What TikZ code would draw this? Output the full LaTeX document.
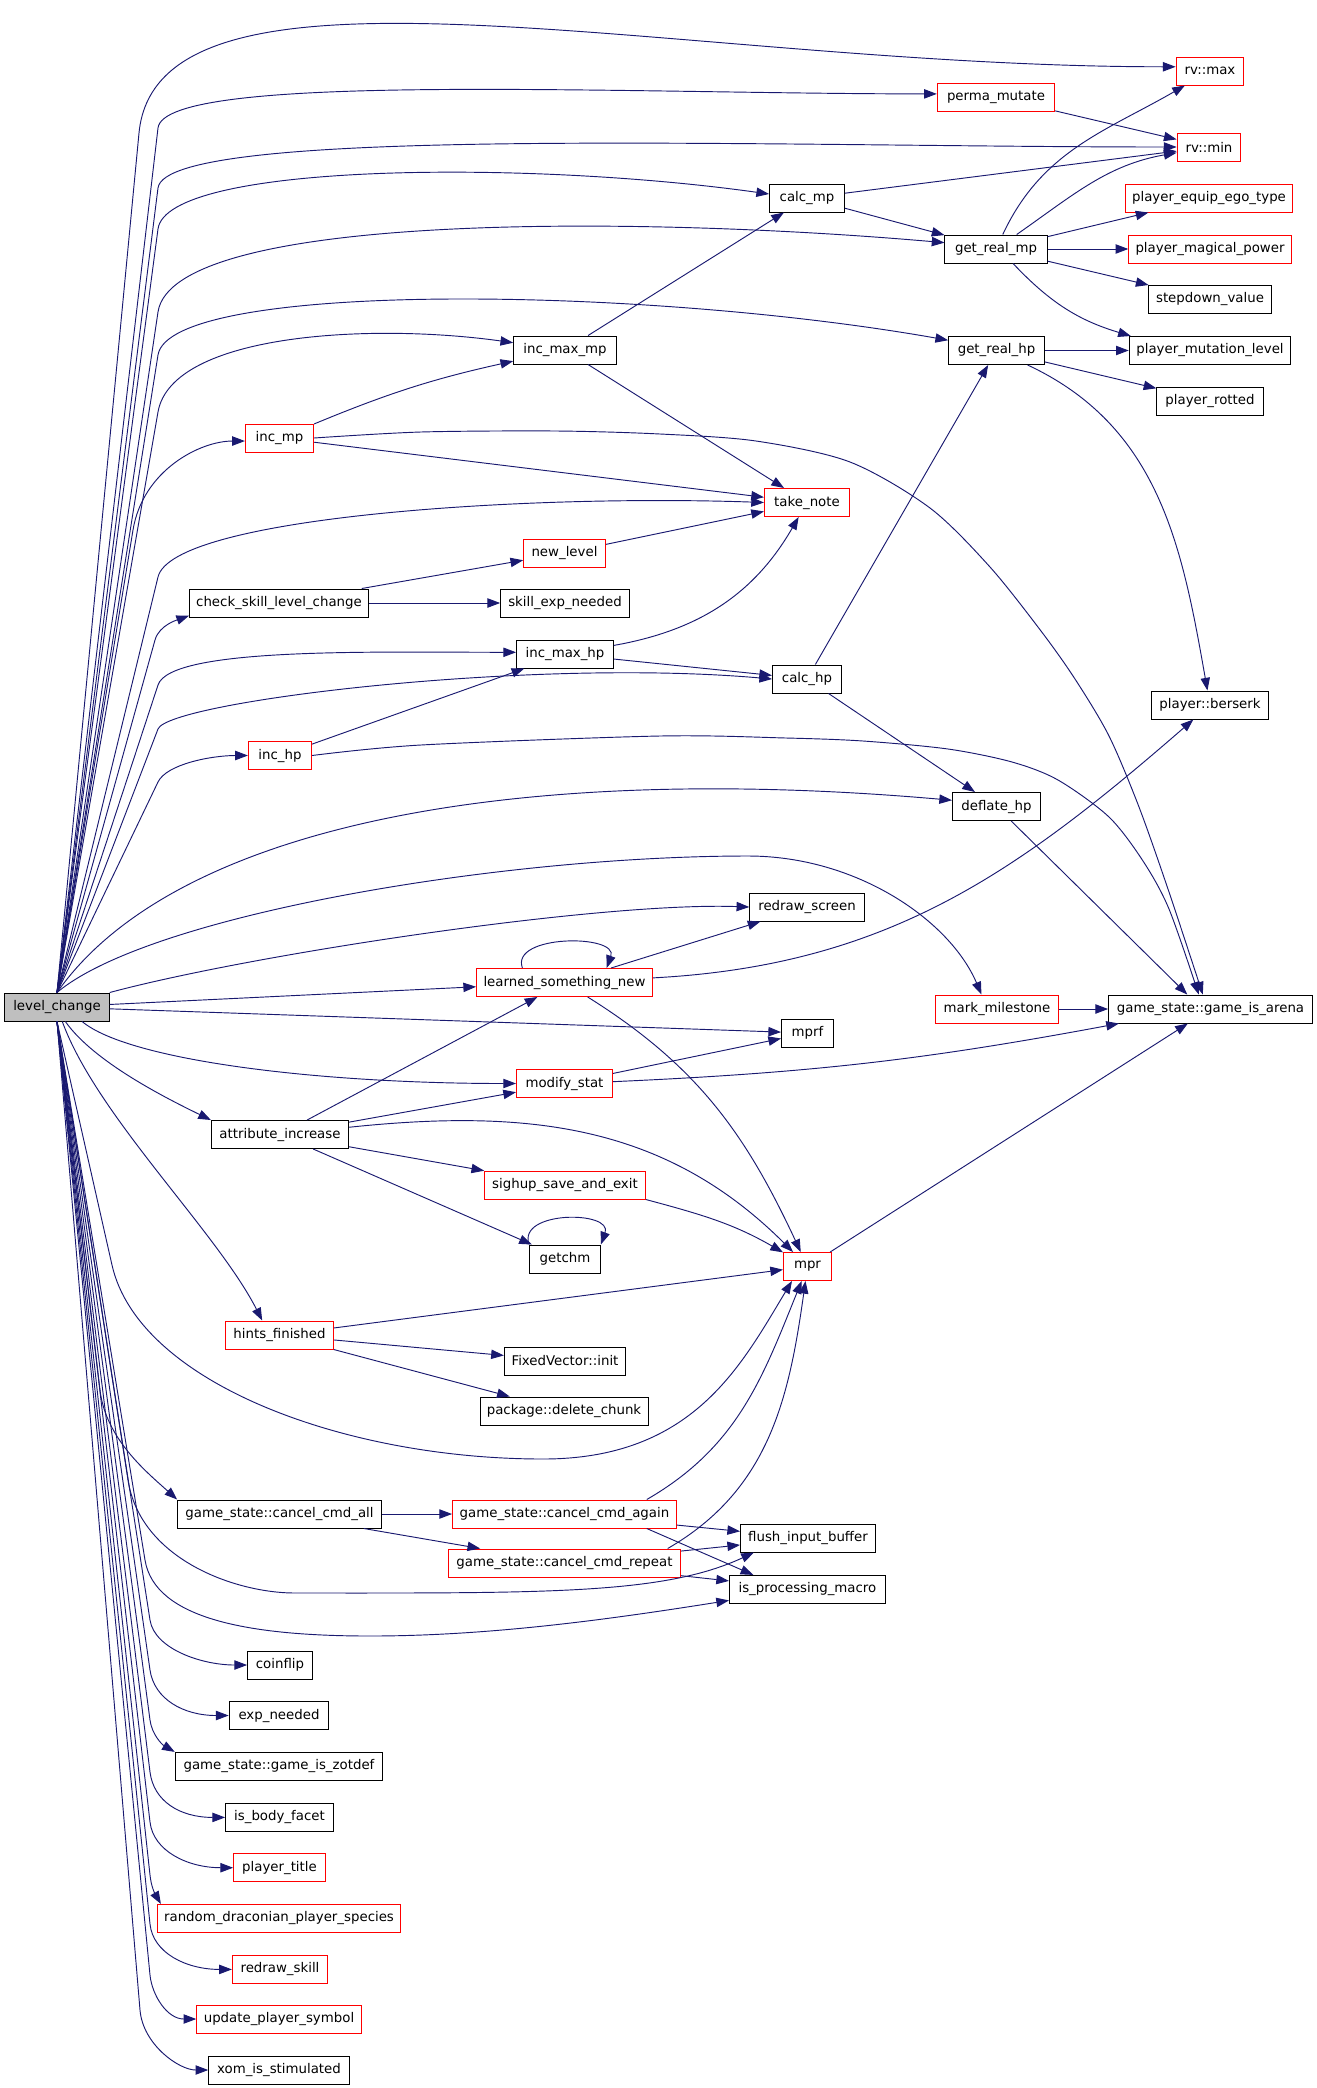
\documentclass[tikz,border=0pt]{standalone}
\usepackage{fontspec}
\setmainfont{DejaVu Sans}
\usetikzlibrary{arrows.meta}
\definecolor{edgeblue}{RGB}{25,25,112}

\begin{document}
\begin{tikzpicture}[x=0.75pt, y=-0.75pt,
		fn/.style={draw=black, line width=0.75pt, minimum height=21pt, inner sep=0pt, text=black},
		fnr/.style={fn, draw=red},
		root/.style={fn, fill=gray!50},
		wd/.style={minimum width=#1*0.75pt},
		call/.style={draw=edgeblue, line width=0.7pt, -{Triangle[length=9.5pt, width=7pt]}},
		fan/.style={smooth, tension=0.5}]
		\useasboundingbox[fill=white] (0,0) rectangle (1317,2088);

		\node[root, wd=104.4] (lc) at (57,1007) {level\_change};

		\node[fnr, wd=68.2] (incmp) at (279.5,438) {inc\_mp};
		\node[fn, wd=178.9] (cslc) at (279,603) {check\_skill\_level\_change};
		\node[fnr, wd=63.2] (inchp) at (280,755.5) {inc\_hp};
		\node[fn, wd=137.2] (ai) at (280,1134.5) {attribute\_increase};
		\node[fnr, wd=107.8] (hf) at (279.5,1335) {hints\_finished};
		\node[fn, wd=203.7] (cca) at (279.5,1514) {game\_state::cancel\_cmd\_all};
		\node[fn, wd=64.8] (coin) at (280,1665) {coinflip};
		\node[fn, wd=99.7] (expn) at (279,1715.5) {exp\_needed};
		\node[fn, wd=207.5] (zot) at (279,1766.4) {game\_state::game\_is\_zotdef};
		\node[fn, wd=107.8] (ibf) at (279.5,1817.4) {is\_body\_facet};
		\node[fnr, wd=91.8] (ptitle) at (279.5,1867.7) {player\_title};
		\node[fnr, wd=242.9] (rdps) at (279,1918.4) {random\_draconian\_player\_species};
		\node[fnr, wd=95.2] (rsk) at (280,1969.4) {redraw\_skill};
		\node[fnr, wd=164.5] (ups) at (279,2019) {update\_player\_symbol};
		\node[fn, wd=140.5] (xom) at (279,2070) {xom\_is\_stimulated};

		\node[fn, wd=102.7] (imm) at (565,350) {inc\_max\_mp};
		\node[fnr, wd=81.7] (nl) at (564.5,553) {new\_level};
		\node[fn, wd=128.7] (sen) at (565,603) {skill\_exp\_needed};
		\node[fn, wd=96.9] (imh) at (565,654) {inc\_max\_hp};
		\node[fnr, wd=175.9] (lsn) at (564.5,982.5) {learned\_something\_new};
		\node[fnr, wd=96] (ms) at (564.5,1083.5) {modify\_stat};
		\node[fnr, wd=160.7] (sighup) at (565,1185) {sighup\_save\_and\_exit};
		\node[fn, wd=70.7] (getchm) at (565,1259) {getchm};
		\node[fn, wd=121.3] (fvi) at (565,1361) {FixedVector::init};
		\node[fn, wd=168] (pdc) at (564,1411) {package::delete\_chunk};
		\node[fnr, wd=223.9] (ccag) at (564.5,1514) {game\_state::cancel\_cmd\_again};
		\node[fnr, wd=232.3] (ccr) at (564.5,1563) {game\_state::cancel\_cmd\_repeat};

		\node[fn, wd=74.9] (calcmp) at (807,198) {calc\_mp};
		\node[fnr, wd=85.1] (tnote) at (807,502.5) {take\_note};
		\node[fn, wd=68.9] (calchp) at (807,679) {calc\_hp};
		\node[fn, wd=114.5] (rscr) at (807,907) {redraw\_screen};
		\node[fn, wd=51.9] (mprf) at (807.5,1033) {mprf};
		\node[fnr, wd=48] (mpr) at (807.5,1266.5) {mpr};
		\node[fn, wd=134.9] (fib) at (808,1538) {flush\_input\_buffer};
		\node[fn, wd=155.8] (ipm) at (807.4,1589.4) {is\_processing\_macro};

		\node[fnr, wd=117.4] (perma) at (996,97) {perma\_mutate};
		\node[fn, wd=102.1] (grmp) at (996,249) {get\_real\_mp};
		\node[fn, wd=95.8] (grhp) at (996.5,350.5) {get\_real\_hp};
		\node[fn, wd=88] (defl) at (996.5,806.5) {deflate\_hp};
		\node[fnr, wd=123.7] (mmile) at (997,1009) {mark\_milestone};

		\node[fnr, wd=67.7] (rvmax) at (1210,71) {rv::max};
		\node[fnr, wd=63.8] (rvmin) at (1209,147) {rv::min};
		\node[fnr, wd=167.6] (peet) at (1209,198) {player\_equip\_ego\_type};
		\node[fnr, wd=162.4] (pmp) at (1210,249) {player\_magical\_power};
		\node[fn, wd=123.8] (sdv) at (1210,299.5) {stepdown\_value};
		\node[fn, wd=161.6] (pml) at (1210,350.5) {player\_mutation\_level};
		\node[fn, wd=106.3] (prot) at (1210,401) {player\_rotted};
		\node[fn, wd=116.1] (bers) at (1210,705) {player::berserk};
		\node[fn, wd=203.8] (gia) at (1210.5,1009) {game\_state::game\_is\_arena};

		% calls made by level_change
		\draw[call] (lc.north) -- (139,133) to[out=84.5, in=180, out distance=150pt, in distance=375pt] (rvmax.173);
		\draw[call] (lc.north) -- (158,128) to[out=83.3, in=180, out distance=43pt, in distance=234pt] (perma.177);
		\draw[call] (lc.north) -- (158,188) to[out=82.8, in=180, out distance=48pt, in distance=306pt] (rvmin.west);
		\draw[call] (lc.north) -- (158,229) to[out=82.5, in=172, out distance=50pt, in distance=184pt] (calcmp.174);
		\draw[call] (lc.north) -- (158,312) to[out=81.6, in=175, out distance=75pt, in distance=236pt] (grmp.173);
		\draw[call] (lc.north) -- (158,355) to[out=81, in=170, out distance=56pt, in distance=237pt] (grhp.168);
		\draw[call] (lc.north) -- (158,412) to[out=80.1, in=172, out distance=60pt, in distance=107pt] (imm.172);
		\draw[call] (lc.north) -- (133,530) to[out=80.7, in=180, out distance=45pt, in distance=34pt] (incmp.185);
		\draw[call] (lc.north) -- (158,577) to[out=76.4, in=178, out distance=46pt, in distance=182pt] (tnote.west);
		\draw[call] (lc.north) -- (155,640) to[out=74.5, in=200, out distance=12pt, in distance=8pt] (cslc.188);
		\draw[call] (lc.north) -- (158,685) to[out=71.8, in=180, out distance=30pt, in distance=107pt] (imh.178);
		\draw[call] (lc.north) -- (158,729) to[out=69, in=175, out distance=22pt, in distance=184pt] (calchp.west);
		\draw[call] (lc.north) -- (158,782) to[out=64.4, in=180, out distance=15pt, in distance=27pt] (inchp.west);
		\draw[call] (lc.north) to[out=55, in=175, out distance=150pt, in distance=337pt] (defl.172);
		\draw[call] (lc.north) to[out=40, in=180, out distance=90pt, in distance=187pt] (748,856) to[out=0, in=113, out distance=82pt, in distance=60pt] (mmile.137);
		\draw[call] (lc.north east) to[out=15, in=178, out distance=112pt, in distance=112pt] (rscr.west);
		\draw[call] (lc) -- (lsn);
		\draw[call] (lc) -- (mprf);
		\draw[call] (lc.-30) to[out=-40, in=180, out distance=45pt, in distance=150pt] (ms.west);
		\draw[call] (lc.-60) to[out=-55, in=154, out distance=37pt, in distance=37pt] (ai.north west);
		\draw[call] (lc.-70) to[out=-70, in=117, out distance=75pt, in distance=75pt] (hf.140);
		\draw[call] (lc.south) -- (112,1265) to[out=-77.3, in=180, out distance=90pt, in distance=150pt] (543,1459) to[out=0, in=-121, out distance=112pt, in distance=75pt] (mpr.-137);
		\draw[call] (lc.south) -- (100,1390) to[out=-83.4, in=138, out distance=37pt, in distance=30pt] (cca.north west);
		\draw[call] (lc.south) -- (128,1480) to[out=-81.2, in=180, out distance=60pt, in distance=45pt] (295,1593) to[out=0, in=205, out distance=187pt, in distance=75pt] (fib.-165);
		\draw[call] (lc.south) -- (145,1560) to[out=-80.7, in=180, out distance=45pt, in distance=90pt] (370,1636) to[out=0, in=189, out distance=90pt, in distance=90pt] (ipm.-172);
		\draw[call] (lc.south) -- (150,1620) to[out=-81.2, in=180, out distance=22pt, in distance=34pt] (coin.west);
		\draw[call] (lc.south) -- (150,1670) to[out=-81.8, in=180, out distance=22pt, in distance=34pt] (expn.west);
		\draw[call] (lc.south) -- (150,1720) to[out=-82.4, in=150, out distance=11pt, in distance=11pt] (zot.north west);
		\draw[call] (lc.south) -- (150,1772) to[out=-82.9, in=180, out distance=22pt, in distance=34pt] (ibf.west);
		\draw[call] (lc.south) -- (150,1822) to[out=-83.4, in=180, out distance=22pt, in distance=34pt] (ptitle.west);
		\draw[call] (lc.south) -- (150,1875) to[out=-83.8, in=120, out distance=9pt, in distance=9pt] (rdps.173);
		\draw[call] (lc.south) -- (150,1924) to[out=-84.1, in=180, out distance=22pt, in distance=34pt] (rsk.west);
		\draw[call] (lc.south) -- (150,1975) to[out=-84.4, in=180, out distance=15pt, in distance=22pt] (ups.west);
		\draw[call] (lc.south) -- (140,2010) to[out=-85.2, in=180, out distance=26pt, in distance=22pt] (xom.west);

		% the rest of the call graph
		\draw[call] (perma) -- (rvmin);
		\draw[call] (calcmp) -- (rvmin);
		\draw[call] (calcmp) -- (grmp);
		\draw[call] (grmp) to[out=65, in=-150] (rvmax);
		\draw[call] (grmp) to[out=35, in=-170] (rvmin);
		\draw[call] (grmp) -- (peet);
		\draw[call] (grmp) -- (pmp);
		\draw[call] (grmp) -- (sdv);
		\draw[call] (grmp) to[bend right=15] (pml);
		\draw[call] (grhp) -- (pml);
		\draw[call] (grhp) -- (prot);
		\draw[call] (grhp) to[out=-25, in=100] (bers);
		\draw[call] (imm) -- (calcmp);
		\draw[call] (imm) -- (tnote);
		\draw[call] (incmp) to[bend left=5] (imm);
		\draw[call] (incmp) -- (tnote);
		\draw[call] plot[fan] coordinates {(incmp.east) (421,432) (556,431) (660,434) (756,441) (850,462) (930,508) (990,567) (1041,631) (1075,679) (1109,736) (1139,807) (1169,892) (gia.118)};
		\draw[call] (nl) -- (tnote);
		\draw[call] (cslc) -- (nl);
		\draw[call] (cslc) -- (sen);
		\draw[call] (imh) to[out=10, in=-120] (tnote);
		\draw[call] (imh) -- (calchp);
		\draw[call] (calchp) -- (grhp);
		\draw[call] (calchp) -- (defl);
		\draw[call] (inchp) -- (imh);
		\draw[call] plot[fan] coordinates {(inchp.east) (421,745) (660,736) (786,738) (863,741) (948,749) (1012,762) (1058,780) (1109,817) (1143,861) (1169,909) (gia.129)};
		\draw[call] (defl) -- (gia.148);
		\draw[call] (mmile) -- (gia);
		\draw[call] (lsn.161) to[out=110, in=70, looseness=1.1] (lsn.19);
		\draw[call] (lsn) -- (rscr);
		\draw[call] (lsn) to[out=3, in=-139] (bers);
		\draw[call] (lsn) to[out=-32, in=115] (mpr);
		\draw[call] (ms) -- (mprf);
		\draw[call] (ms) to[bend right=4] (gia.-171);
		\draw[call] (ai) -- (lsn);
		\draw[call] (ai) -- (ms);
		\draw[call] (ai) to[out=6, in=135] (mpr);
		\draw[call] (ai) -- (sighup);
		\draw[call] (ai) -- (getchm);
		\draw[call] (getchm.north west) to[out=110, in=70, looseness=1.3] (getchm.north east);
		\draw[call] (sighup.south east) to[out=-15, in=150] (mpr);
		\draw[call] (hf) -- (mpr);
		\draw[call] (hf) -- (fvi);
		\draw[call] (hf) -- (pdc);
		\draw[call] (mpr) -- (gia);
		\draw[call] (cca) -- (ccag);
		\draw[call] (cca) -- (ccr);
		\draw[call] (ccag.10) to[out=30, in=-112] (mpr);
		\draw[call] (ccag) -- (fib);
		\draw[call] (ccag.-10) -- (ipm.165);
		\draw[call] (ccr.8) to[out=30, in=-98] (mpr);
		\draw[call] (ccr) -- (fib);
		\draw[call] (ccr) -- (ipm);
	\end{tikzpicture}
\end{document}
